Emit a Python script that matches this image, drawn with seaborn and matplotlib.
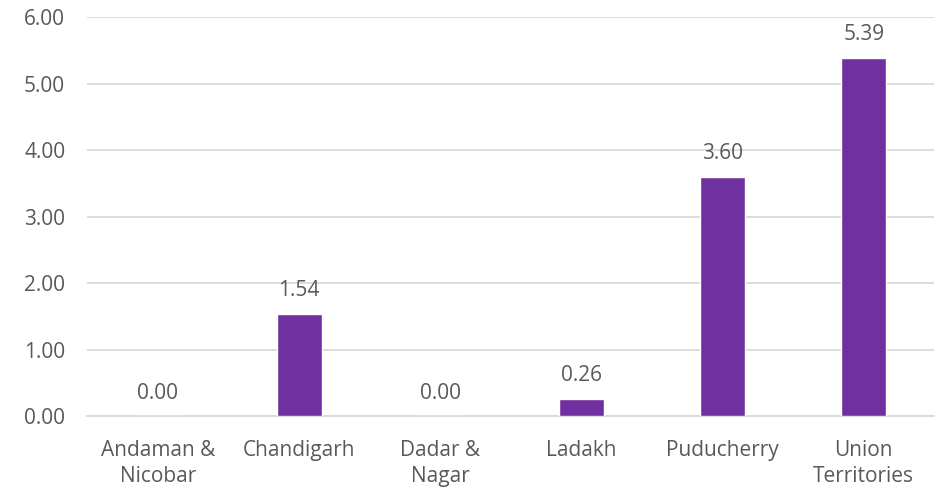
import matplotlib
matplotlib.use("Agg")
import matplotlib.pyplot as plt
import seaborn as sns
import pandas as pd

categories = ["Andaman &\nNicobar", "Chandigarh", "Dadar &\nNagar", "Ladakh", "Puducherry", "Union\nTerritories"]
values = [0.00, 1.54, 0.00, 0.26, 3.60, 5.39]
y_ticks = [0, 1, 2, 3, 4, 5, 6]

sns.set_theme(style="white")
plt.rcParams["font.family"] = ["Open Sans", "DejaVu Sans"]

text_color = "#595959"
grid_color = "#D9D9D9"
bar_color = "#7030A0"
font_size = 15

df = pd.DataFrame({"category": categories, "value": values})

fig = plt.figure(figsize=(9.4, 4.88), dpi=100)
ax = fig.add_axes([0.093, 0.1475, 0.901, 0.8175])

sns.barplot(data=df, x="category", y="value", color=bar_color, width=0.32,
            saturation=1, ax=ax, zorder=3)

ax.set_ylim(0, 6)
ax.set_yticks(y_ticks)
ax.set_yticklabels([f"{t:.2f}" for t in y_ticks])
ax.yaxis.grid(True, color=grid_color, linewidth=1.3, zorder=0)
ax.set_axisbelow(True)

for s in ["top", "right", "left"]:
    ax.spines[s].set_visible(False)
ax.spines["bottom"].set_color(grid_color)
ax.spines["bottom"].set_linewidth(1.3)

ax.tick_params(axis="both", length=0, labelsize=font_size, colors=text_color)
ax.tick_params(axis="y", pad=16)
ax.tick_params(axis="x", pad=17)
for lbl in ax.get_xticklabels():
    lbl.set_linespacing(1.35)
ax.set_xlabel("")
ax.set_ylabel("")

for i, v in enumerate(values):
    ax.annotate(f"{v:.2f}", (i, v), xytext=(0, 9), textcoords="offset points",
                ha="center", va="bottom", fontsize=font_size, color=text_color)

fig.savefig("out.png", dpi=100)
